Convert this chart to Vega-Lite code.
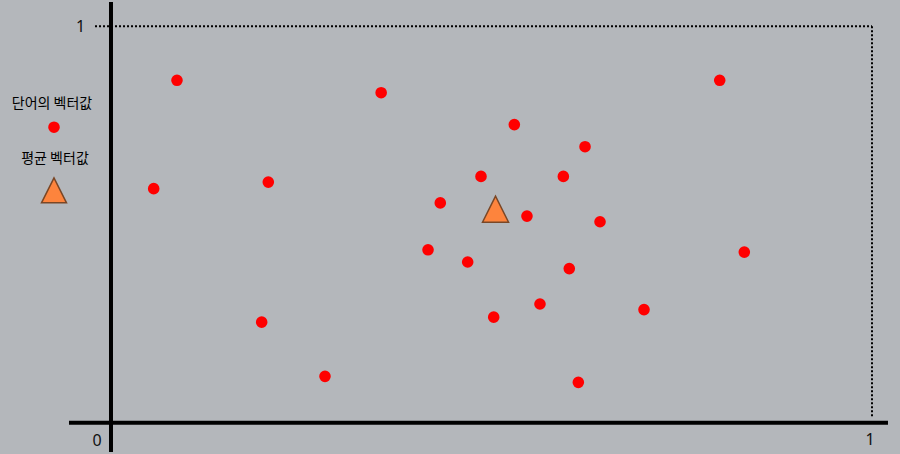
{
  "$schema": "https://vega.github.io/schema/vega-lite/v6.json",
  "width": 900,
  "height": 454,
  "autosize": {"type": "fit", "contains": "padding"},
  "padding": 0,
  "background": "#b4b7bb",
  "config": {"view": {"stroke": null}},
  "datasets": {
    "points": [
      {"x": 0.0867, "y": 0.8638, "series": "단어의 벡터값"},
      {"x": 0.3550, "y": 0.8325, "series": "단어의 벡터값"},
      {"x": 0.7999, "y": 0.8638, "series": "단어의 벡터값"},
      {"x": 0.5300, "y": 0.7520, "series": "단어의 벡터값"},
      {"x": 0.6229, "y": 0.6963, "series": "단어의 벡터값"},
      {"x": 0.0561, "y": 0.5905, "series": "단어의 벡터값"},
      {"x": 0.2067, "y": 0.6070, "series": "단어의 벡터값"},
      {"x": 0.4862, "y": 0.6213, "series": "단어의 벡터값"},
      {"x": 0.5944, "y": 0.6213, "series": "단어의 벡터값"},
      {"x": 0.4327, "y": 0.5545, "series": "단어의 벡터값"},
      {"x": 0.5466, "y": 0.5213, "series": "단어의 벡터값"},
      {"x": 0.6426, "y": 0.5070, "series": "단어의 벡터값"},
      {"x": 0.4166, "y": 0.4363, "series": "단어의 벡터값"},
      {"x": 0.8322, "y": 0.4305, "series": "단어의 벡터값"},
      {"x": 0.4687, "y": 0.4055, "series": "단어의 벡터값"},
      {"x": 0.6022, "y": 0.3888, "series": "단어의 벡터값"},
      {"x": 0.5637, "y": 0.2995, "series": "단어의 벡터값"},
      {"x": 0.7004, "y": 0.2855, "series": "단어의 벡터값"},
      {"x": 0.1980, "y": 0.2538, "series": "단어의 벡터값"},
      {"x": 0.5029, "y": 0.2663, "series": "단어의 벡터값"},
      {"x": 0.2812, "y": 0.1170, "series": "단어의 벡터값"},
      {"x": 0.6141, "y": 0.1020, "series": "단어의 벡터값"},
      {"x": 0.5053, "y": 0.5388, "series": "평균 벡터값"}
    ],
    "legend": [
      {"x": -0.0749, "y": 0.7455, "series": "단어의 벡터값", "label": "단어의 벡터값", "ly": 0.8038, "lx": -0.0775},
      {"x": -0.0749, "y": 0.5863, "series": "평균 벡터값", "label": "평균 벡터값", "ly": 0.6663, "lx": -0.0736}
    ],
    "lines": [
      {"x": -0.0552, "x2": 1.0210, "y": 0, "y2": 0, "style": "solid"},
      {"x": 0, "x2": 0, "y": -0.07375, "y2": 1.06125, "style": "solid"},
      {"x": -0.0210, "x2": 1.0, "y": 1.0, "y2": 1.0, "style": "dotted"},
      {"x": 1.0, "x2": 1.0, "y": 0.01625, "y2": 1.0, "style": "dotted"}
    ],
    "ticks": [
      {"x": -0.0401, "y": 0.9988, "label": "1"},
      {"x": -0.0184, "y": -0.0463, "label": "0"},
      {"x": 0.9974, "y": -0.0438, "label": "1"}
    ]
  },
  "layer": [
    {
      "data": {"name": "lines"},
      "transform": [{"filter": "datum.style === 'solid'"}],
      "mark": {"type": "rule", "color": "#000000", "strokeWidth": 4},
      "encoding": {
        "x": {"field": "x", "type": "quantitative", "scale": {"domain": [-0.14586, 1.03679], "nice": false, "zero": false}, "axis": null},
        "x2": {"field": "x2"},
        "y": {"field": "y", "type": "quantitative", "scale": {"domain": [-0.07375, 1.06125], "nice": false, "zero": false}, "axis": null},
        "y2": {"field": "y2"}
      }
    },
    {
      "data": {"name": "lines"},
      "transform": [{"filter": "datum.style === 'dotted'"}],
      "mark": {"type": "rule", "color": "#000000", "strokeWidth": 2, "strokeDash": [2, 2]},
      "encoding": {
        "x": {"field": "x", "type": "quantitative"},
        "x2": {"field": "x2"},
        "y": {"field": "y", "type": "quantitative"},
        "y2": {"field": "y2"}
      }
    },
    {
      "data": {"name": "ticks"},
      "mark": {"type": "text", "font": "Noto Sans", "fontSize": 16, "color": "#111111", "align": "center", "baseline": "middle"},
      "encoding": {
        "x": {"field": "x", "type": "quantitative"},
        "y": {"field": "y", "type": "quantitative"},
        "text": {"field": "label"}
      }
    },
    {
      "data": {"name": "points"},
      "transform": [{"filter": "datum.series === '단어의 벡터값'"}],
      "mark": {"type": "point", "shape": "circle", "filled": true, "size": 135, "color": "#ff0000", "opacity": 1},
      "encoding": {
        "x": {"field": "x", "type": "quantitative"},
        "y": {"field": "y", "type": "quantitative"}
      }
    },
    {
      "data": {"name": "points"},
      "transform": [{"filter": "datum.series === '평균 벡터값'"}],
      "mark": {"type": "point", "shape": "M0,-1L-1,1L1,1Z", "filled": true, "size": 676, "fill": "#fd843d", "stroke": "#7a4726", "strokeWidth": 1.5, "opacity": 1, "fillOpacity": 1},
      "encoding": {
        "x": {"field": "x", "type": "quantitative"},
        "y": {"field": "y", "type": "quantitative"}
      }
    },
    {
      "data": {"name": "legend"},
      "transform": [{"filter": "datum.series === '단어의 벡터값'"}],
      "mark": {"type": "point", "shape": "circle", "filled": true, "size": 135, "color": "#ff0000", "opacity": 1},
      "encoding": {
        "x": {"field": "x", "type": "quantitative"},
        "y": {"field": "y", "type": "quantitative"}
      }
    },
    {
      "data": {"name": "legend"},
      "transform": [{"filter": "datum.series === '평균 벡터값'"}],
      "mark": {"type": "point", "shape": "M0,-1L-1,1L1,1Z", "filled": true, "size": 625, "fill": "#fd843d", "stroke": "#7a4726", "strokeWidth": 1.5, "opacity": 1, "fillOpacity": 1},
      "encoding": {
        "x": {"field": "x", "type": "quantitative"},
        "y": {"field": "y", "type": "quantitative"}
      }
    },
    {
      "data": {"name": "legend"},
      "mark": {"type": "text", "font": "Noto Sans CJK KR", "fontSize": 14, "color": "#000000", "align": "center", "baseline": "middle"},
      "encoding": {
        "x": {"field": "lx", "type": "quantitative"},
        "y": {"field": "ly", "type": "quantitative"},
        "text": {"field": "label"}
      }
    }
  ]
}
